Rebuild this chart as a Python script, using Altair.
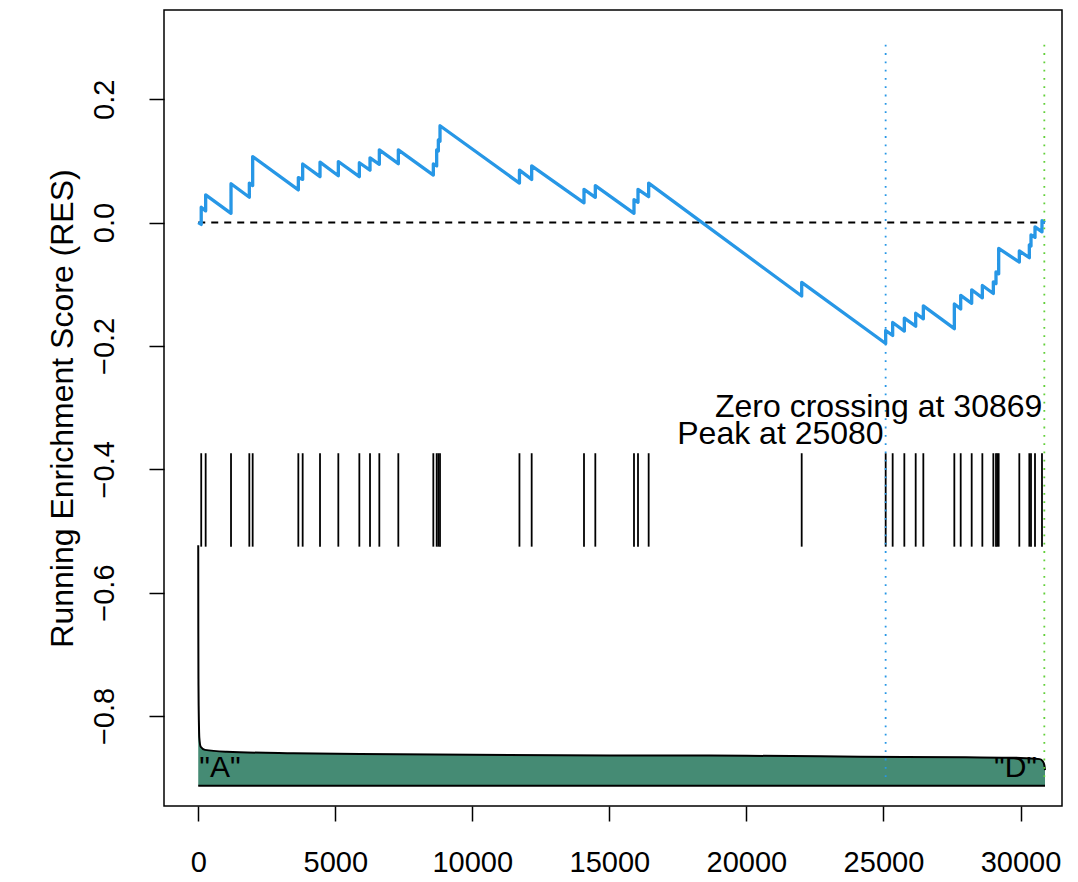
import altair as alt
import pandas as pd

# ---------------- data ----------------
n_genes = 30894
peak_rank = 25080
zero_cross = 30869

# running enrichment score vertices (rank, RES)
res_x = [1, 110, 110, 272, 272, 1197, 1197, 1865, 1865, 1987, 1987,
         3653, 3653, 3811, 3811, 4444, 4444, 5112, 5112, 5879, 5879,
         6268, 6268, 6608, 6608, 7301, 7301, 8578, 8578, 8700, 8700,
         8761, 8761, 8822, 8822,
         11720, 11720, 12166, 12166, 14075, 14075, 14488, 14488,
         15899, 15899, 16045, 16045, 16434, 16434,
         22017, 22017, 25081, 25081, 25336, 25336, 25762, 25762,
         26176, 26176, 26455, 26455, 27586, 27586, 27818, 27818,
         28219, 28219, 28608, 28608, 29009, 29009, 29106, 29106,
         29204, 29204, 29957, 29957, 30322, 30322, 30383, 30383,
         30529, 30529, 30784, 30784, 30894]
res_y = [0.0, -0.003, 0.025, 0.019, 0.045, 0.015, 0.063, 0.041, 0.064, 0.060, 0.107,
         0.053, 0.073, 0.070, 0.095, 0.0745, 0.098, 0.076, 0.099, 0.0745, 0.097,
         0.085, 0.105, 0.0945, 0.118, 0.0955, 0.118, 0.077, 0.095, 0.092, 0.118,
         0.116, 0.134, 0.132, 0.157,
         0.064, 0.085, 0.070, 0.092, 0.032, 0.054, 0.041, 0.060,
         0.015, 0.037, 0.033, 0.054, 0.042, 0.064,
         -0.119, -0.097, -0.196, -0.175, -0.183, -0.162, -0.176, -0.155,
         -0.168, -0.147, -0.156, -0.135, -0.172, -0.132, -0.140, -0.118,
         -0.131, -0.109, -0.122, -0.102, -0.115, -0.096, -0.099, -0.080,
         -0.083, -0.042, -0.064, -0.046, -0.057, -0.036, -0.038, -0.020,
         -0.024, -0.007, -0.015, 0.003, 0.0]

# positions of the gene-set members (hit ticks)
hit_ranks = [110, 272, 1197, 1865, 1987, 3653, 3811, 4444, 5112, 5879, 6268,
             6608, 7301, 8578, 8700, 8761, 8822, 11720, 12166, 14075, 14488,
             15899, 16045, 16434, 22017, 25081, 25336, 25762, 26176, 26455,
             27586, 27818, 28219, 28608, 29009, 29106, 29155, 29204, 29957,
             30322, 30383, 30529, 30784]

# ranked-list metric, drawn in the lower panel (rank, scaled value)
metric_x = [1, 4, 10, 18, 25, 40, 91, 248, 1040, 3470, 5903, 10000, 15000,
            20000, 24150, 28000, 30000, 30700, 30820, 30870, 30894]
metric_y = [-0.523, -0.66, -0.75, -0.79, -0.81, -0.835, -0.850, -0.855, -0.858,
            -0.8605, -0.8617, -0.863, -0.864, -0.8645, -0.866, -0.867, -0.868,
            -0.870, -0.874, -0.880, -0.888]
metric_base = -0.913

x_ticks = [0, 5000, 10000, 15000, 20000, 25000, 30000]
y_ticks = [-0.8, -0.6, -0.4, -0.2, 0.0, 0.2]

y_lim = [-0.899, 0.297]
x_domain = [-1248, 31514]
y_domain = [-0.946, 0.3447]

FONT = "Liberation Sans"
BLUE = "#2797E6"
GREEN = "#62CF3A"
FILL = "#458B74"

res_df = pd.DataFrame({"rank": res_x, "res": res_y, "i": list(range(len(res_x)))})
hit_df = pd.DataFrame({"rank": hit_ranks})
met_df = pd.DataFrame({"rank": metric_x, "val": metric_y, "base": [metric_base] * len(metric_x)})
one = pd.DataFrame({"k": [0]})

xs = alt.Scale(domain=x_domain, nice=False, zero=False)
ys = alt.Scale(domain=y_domain, nice=False, zero=False)

x_axis = alt.Axis(values=x_ticks, format="d", domain=False, grid=False, tickSize=15,
                  tickColor="black", tickWidth=1.5, labelFont=FONT, labelFontSize=29,
                  labelColor="black", labelBaseline="alphabetic", labelPadding=50,
                  labelFlush=False, labelOverlap=False, title=None)
y_axis = alt.Axis(values=y_ticks, format=".1f", domain=False, grid=False, tickSize=15,
                  tickColor="black", tickWidth=1.5, labelFont=FONT, labelFontSize=29,
                  labelColor="black", labelAngle=270, labelAlign="center",
                  labelBaseline="alphabetic", labelPadding=36, labelFlush=False,
                  labelOverlap=False,
                  title="Running Enrichment Score (RES)", titleFont=FONT,
                  titleFontSize=32, titleFontWeight="normal", titleColor="black",
                  titleAngle=270, titleAlign="center", titleBaseline="middle",
                  titleX=-102, titleY=398)

area = alt.Chart(met_df).mark_area(color=FILL, opacity=1, interpolate="monotone").encode(
    x=alt.X("rank:Q", scale=xs, axis=x_axis),
    y=alt.Y("val:Q", scale=ys, axis=y_axis),
    y2="base:Q",
)
met_line = alt.Chart(met_df).mark_line(color="black", strokeWidth=2, interpolate="monotone").encode(
    x=alt.X("rank:Q", scale=xs), y=alt.Y("val:Q", scale=ys)
)
base_rule = alt.Chart(one).mark_rule(color="black", strokeWidth=2).encode(
    x=alt.datum(1, scale=xs), x2=alt.datum(n_genes), y=alt.datum(metric_base, scale=ys)
)
zero_rule = alt.Chart(one).mark_rule(color="black", strokeWidth=2, strokeDash=[7, 6]).encode(
    x=alt.datum(1, scale=xs), x2=alt.datum(n_genes), y=alt.datum(0, scale=ys)
)
hits = alt.Chart(hit_df).mark_rule(color="black", strokeWidth=1.8).encode(
    x=alt.X("rank:Q", scale=xs), y=alt.datum(-0.374, scale=ys), y2=alt.datum(-0.5255)
)
res_line = alt.Chart(res_df).mark_line(color=BLUE, strokeWidth=3.3, strokeJoin="round").encode(
    x=alt.X("rank:Q", scale=xs), y=alt.Y("res:Q", scale=ys), order="i:Q"
)
peak_rule = alt.Chart(one).mark_rule(color=BLUE, strokeWidth=1.8, strokeDash=[1.8, 6.5]).encode(
    x=alt.datum(peak_rank, scale=xs), y=alt.datum(y_lim[0], scale=ys), y2=alt.datum(y_lim[1])
)
zc_rule = alt.Chart(one).mark_rule(color=GREEN, strokeWidth=1.8, strokeDash=[1.8, 6.5]).encode(
    x=alt.datum(zero_cross, scale=xs), y=alt.datum(y_lim[0], scale=ys), y2=alt.datum(y_lim[1])
)
zc_text = alt.Chart(one).mark_text(font=FONT, fontSize=32, align="right",
                                   baseline="alphabetic", dx=-2, color="black").encode(
    x=alt.datum(zero_cross, scale=xs), y=alt.datum(-0.3157, scale=ys),
    text=alt.value(f"Zero crossing at {zero_cross}")
)
pk_text = alt.Chart(one).mark_text(font=FONT, fontSize=32, align="right",
                                   baseline="alphabetic", dx=-2, color="black").encode(
    x=alt.datum(peak_rank, scale=xs), y=alt.datum(-0.3595, scale=ys),
    text=alt.value(f"Peak at {peak_rank}")
)
a_text = alt.Chart(one).mark_text(font=FONT, fontSize=30, align="left",
                                  baseline="alphabetic", dx=1, color="black").encode(
    x=alt.datum(1, scale=xs), y=alt.datum(y_lim[0], scale=ys), text=alt.value('"A"')
)
d_text = alt.Chart(one).mark_text(font=FONT, fontSize=30, align="right",
                                  baseline="alphabetic", color="black").encode(
    x=alt.datum(30602, scale=xs), y=alt.datum(y_lim[0], scale=ys), text=alt.value('"D"')
)

chart = alt.layer(
    area, met_line, base_rule, zero_rule, hits, res_line,
    a_text, d_text, peak_rule, zc_rule, zc_text, pk_text
).properties(
    width=898, height=796, autosize="none",
    padding={"left": 156, "top": 2, "right": 8, "bottom": 74},
    background="white",
).configure_view(stroke="black", strokeWidth=1.5)

chart.save("out.html", embed_options={"renderer": "svg", "actions": False})
